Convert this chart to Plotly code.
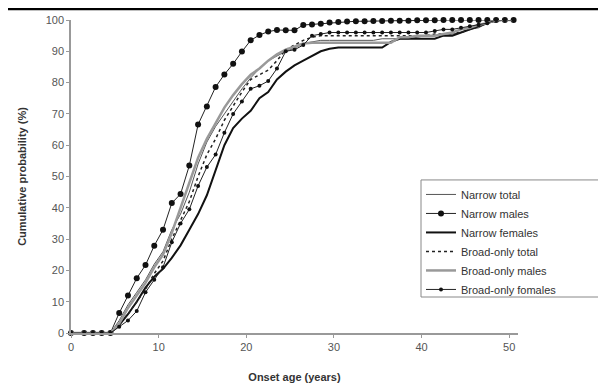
import plotly.graph_objects as go

ages = [0] + [k + 0.5 for k in range(1, 51)]  # 0, 1.5, 2.5, ..., 50.5

narrow_total = [0, 0, 0, 0, 0, 4, 9, 13, 17, 22, 26, 33, 38, 45, 54, 61, 66, 70, 74, 78,
                81.5, 84.5, 87, 88.5, 90, 91, 92.5, 93, 93.5, 93.5, 93.5, 93.5, 93.5, 93.5, 93.5, 94,
                94, 94, 94, 94.5, 95, 95, 95, 95.5, 96, 97, 97.5, 99, 99.5, 100, 100]
narrow_males = [0, 0, 0, 0, 0, 6.4, 12, 17.5, 21.7, 27.9, 33, 41.5, 44.4, 53.5, 66.6, 72.4, 78.6, 82.6, 86, 89.9,
                93.5, 95.2, 96.3, 96.8, 96.7, 96.7, 98.4, 98.6, 98.8, 99.2, 99.4, 99.5, 99.6, 99.6, 99.7, 99.7,
                99.8, 99.8, 99.8, 99.9, 99.9, 99.9, 100, 100, 100, 100, 100, 100, 100, 100, 100]
narrow_females = [0, 0, 0, 0, 0, 2.5, 6, 10, 14.5, 18, 20.5, 24, 28, 33, 38, 44, 52, 60, 65.5, 68.5,
                  71, 75, 77, 81, 83.5, 85.5, 87, 88.5, 90, 90.8, 91.2, 91.2, 91.2, 91.2, 91.2, 91.2,
                  93, 94, 94, 94, 94, 94, 95, 95, 96, 97, 98, 99, 100, 100, 100]
broad_total = [0, 0, 0, 0, 0, 3, 6, 10, 14, 19, 23, 30, 36, 42, 50, 57, 62, 68, 72.5, 77,
               81, 82.5, 84, 87, 90.5, 92, 93.5, 94.5, 95, 95, 95, 95, 95, 95, 95, 95,
               95, 95, 95, 95, 95, 95.5, 95.5, 96, 96, 97, 98, 99, 100, 100, 100]
broad_males = [0, 0, 0, 0, 0, 3, 8, 12, 16, 21, 25, 32, 40, 48, 56, 62, 67, 72, 76, 79.5,
               82.5, 84.5, 87, 89, 90.5, 91.5, 92.5, 92.7, 92.7, 92.7, 92.7, 92.7, 92.7, 92.7, 92.7, 92.7,
               92.7, 94.5, 94.5, 95, 95, 95, 95.5, 96, 97, 97.5, 98.5, 99, 100, 100, 100]
broad_females = [0, 0, 0, 0, 0, 2, 4, 7, 13, 17, 21, 29, 35, 39.5, 47, 53, 57, 64, 70, 74,
                 78, 79, 80.5, 84.5, 90, 90.5, 92, 95, 95.5, 96, 96, 96, 96, 96, 96, 96,
                 96, 96, 96, 96, 96, 96.5, 97, 97, 97.5, 98, 98.5, 99, 100, 100, 100]

x_ticks = [0, 10, 20, 30, 40, 50]
y_ticks = [0, 10, 20, 30, 40, 50, 60, 70, 80, 90, 100]

fig = go.Figure()
fig.add_trace(go.Scatter(x=ages, y=narrow_total, name="Narrow total", mode="lines",
                         line=dict(color="#555555", width=1)))
fig.add_trace(go.Scatter(x=ages, y=narrow_males, name="Narrow males", mode="lines+markers",
                         line=dict(color="#222222", width=1), cliponaxis=False,
                         marker=dict(color="#111111", size=6, symbol="circle")))
fig.add_trace(go.Scatter(x=ages, y=narrow_females, name="Narrow females", mode="lines",
                         line=dict(color="#111111", width=2)))
fig.add_trace(go.Scatter(x=ages, y=broad_total, name="Broad-only total", mode="lines",
                         line=dict(color="#222222", width=1.5, dash="dot")))
fig.add_trace(go.Scatter(x=ages, y=broad_males, name="Broad-only males", mode="lines",
                         line=dict(color="#999999", width=2.5)))
fig.add_trace(go.Scatter(x=ages, y=broad_females, name="Broad-only fomales", mode="lines+markers",
                         line=dict(color="#222222", width=1),
                         marker=dict(color="#111111", size=4, symbol="circle")))

font_family = "Arial, Liberation Sans, sans-serif"
fig.update_layout(
    width=598, height=380,
    margin=dict(l=63, r=88, t=12, b=55, autoexpand=False),
    paper_bgcolor="white", plot_bgcolor="white",
    font=dict(family=font_family, size=11, color="#444444"),
    showlegend=True,
    legend=dict(x=0.783, y=0.489, xanchor="left", yanchor="top",
                bgcolor="rgba(0,0,0,0)", borderwidth=0,
                font=dict(size=11, color="#333333"), tracegroupgap=0,
                itemwidth=30),
    xaxis=dict(range=[0, 51], tickvals=x_ticks, showgrid=False, zeroline=False,
               showline=True, linecolor="#999999", linewidth=1.5, automargin=False,
               ticks="outside", ticklen=3, tickcolor="#999999",
               tickfont=dict(size=11, color="#555555"),
               title=dict(text="<b>Onset age (years)</b>", font=dict(size=11, color="#333333"), standoff=21)),
    yaxis=dict(range=[0, 100], tickvals=y_ticks, showgrid=False, zeroline=False,
               showline=True, linecolor="#999999", linewidth=1.5, automargin=False,
               ticks="outside", ticklen=3, tickcolor="#999999",
               tickfont=dict(size=11, color="#555555"),
               title=dict(text="<b>Cumulative probability (%)</b>", font=dict(size=11, color="#333333"), standoff=17)),
    shapes=[dict(type="line", xref="paper", yref="paper", x0=-0.2, x1=1.3,
                 y0=1.035, y1=1.035, line=dict(color="black", width=2.5)),
            dict(type="rect", xref="paper", yref="paper", x0=0.783, x1=1.3,
                 y0=0.115, y1=0.489, layer="above", fillcolor="white",
                 line=dict(color="#888888", width=1))],
)

fig.write_html("out.html")
